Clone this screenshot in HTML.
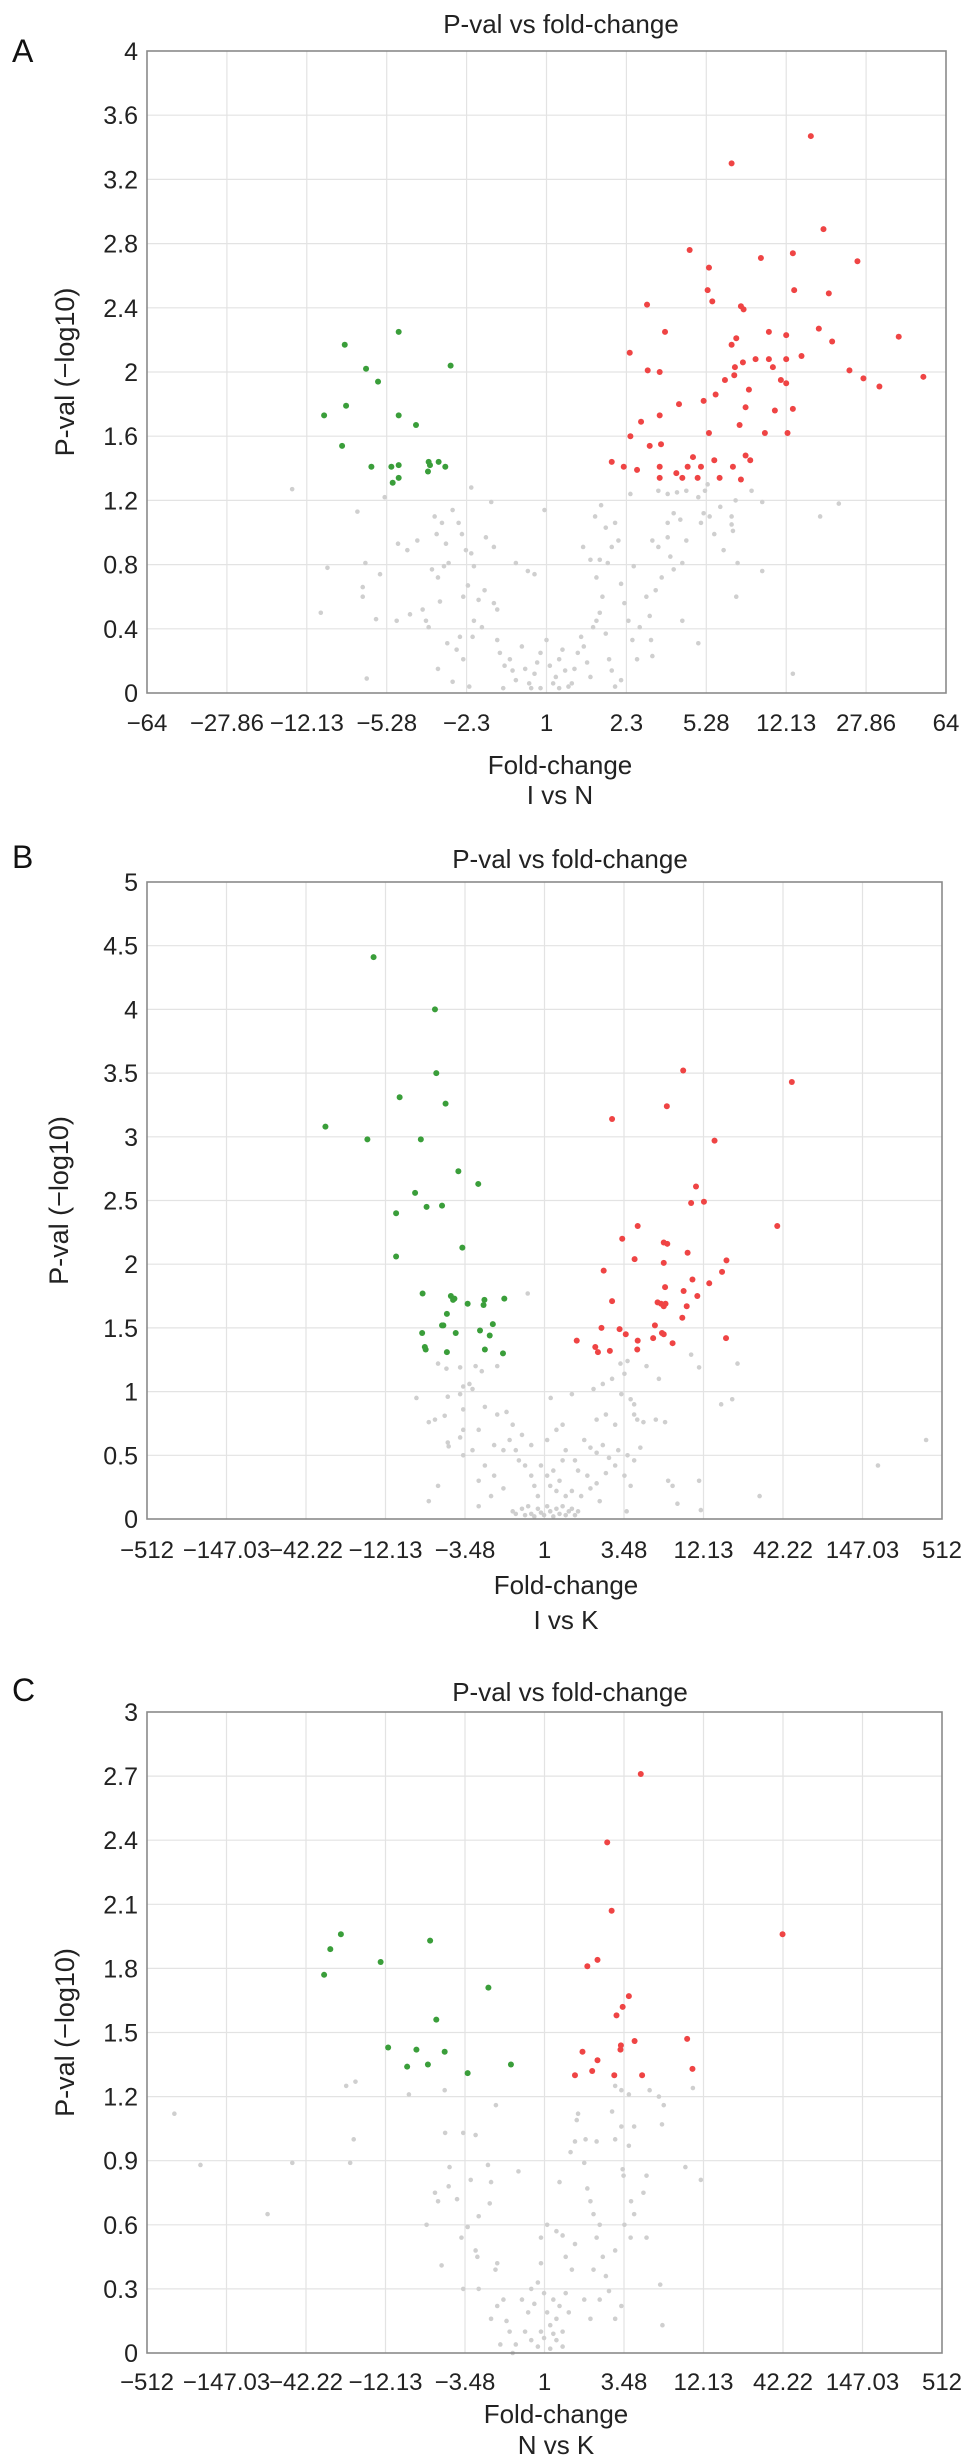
<!DOCTYPE html>
<html><head><meta charset="utf-8">
<style>
html,body{margin:0;padding:0;background:#fff;}
svg{display:block;font-family:"Liberation Sans",Arial,sans-serif;}
</style></head>
<body>
<svg id="fig" width="969" height="2462" viewBox="0 0 969 2462" xmlns="http://www.w3.org/2000/svg"></svg>
<script>
// ---------- Panel A data (x = signed log2 fold-change, y = -log10 p) ----------
const aXTicks = ["\u221264","\u221227.86","\u221212.13","\u22125.28","\u22122.3","1","2.3","5.28","12.13","27.86","64"];
const aYTicks = [0,0.4,0.8,1.2,1.6,2,2.4,2.8,3.2,3.6,4];
const aDownX = [-3.03,-2.22,-2.71,-2.53,-1.44,-3.34,-3.01,-2.22,-1.96,-3.07,-2.63,-2.33,-2.22,-2.31,-2.22,-1.77,-1.75,-1.78,-1.62,-1.52];
const aDownY = [2.17,2.25,2.02,1.94,2.04,1.73,1.79,1.73,1.67,1.54,1.41,1.41,1.42,1.31,1.34,1.44,1.42,1.38,1.44,1.41];
const aUpX = [3.97,2.78,4.16,2.15,3.22,3.70,4.67,2.44,2.42,3.72,4.24,2.49,1.51,2.92,2.96,1.78,3.34,3.60,4.09,4.29,5.29,1.25,2.78,2.85,3.83,3.14,3.34,3.60,2.95,2.83,3.40,1.52,1.70,2.82,4.55,4.76,5.66,5.00,2.68,3.52,3.60,3.04,2.54,2.36,1.99,2.99,1.70,3.43,3.70,1.42,2.90,2.44,3.28,3.62,1.26,1.55,1.72,0.98,1.16,1.36,1.70,1.70,1.95,2.04,2.12,2.20,2.27,2.32,2.52,2.60,2.80,2.92,2.99,3.06];
const aUpY = [3.47,3.30,2.89,2.76,2.71,2.74,2.69,2.65,2.51,2.51,2.49,2.44,2.42,2.41,2.39,2.25,2.25,2.23,2.27,2.19,2.22,2.12,2.17,2.21,2.10,2.08,2.08,2.08,2.06,2.03,2.03,2.01,2.00,1.98,2.01,1.96,1.97,1.91,1.95,1.95,1.93,1.89,1.86,1.82,1.80,1.78,1.73,1.76,1.77,1.69,1.67,1.62,1.62,1.62,1.60,1.54,1.55,1.44,1.41,1.39,1.41,1.34,1.37,1.34,1.41,1.47,1.34,1.41,1.45,1.34,1.41,1.33,1.48,1.45];
const aNsX = [-3.82,-2.84,-2.43,-1.13,-0.83,-0.03,0.82,1.26,1.68,1.82,1.96,2.10,2.28,2.38,2.42,2.61,2.78,2.84,3.08,3.24,4.39,4.11,-3.29,-3.39,-2.76,-2.76,-2.72,-2.70,-2.56,-2.50,-2.23,-2.09,-1.94,-2.25,-2.05,-1.86,-1.81,-1.77,-1.68,-1.57,-1.65,-1.51,-1.47,-1.63,-1.54,-1.72,-1.60,-1.41,-1.32,-1.27,-1.21,-1.13,-1.09,-1.25,-1.18,-1.02,-0.93,-0.79,-0.74,-1.09,-0.97,-1.30,-1.49,-1.35,-1.25,-1.63,-1.41,-1.16,-1.11,-0.91,-0.79,-0.46,-0.28,-0.18,-0.74,-0.70,-0.63,-0.55,-0.51,-0.46,-0.37,-0.32,-0.26,-0.18,-0.14,-0.09,0.00,0.05,0.10,0.14,0.19,0.24,0.28,0.33,0.38,0.42,0.47,0.52,-0.23,-0.09,-0.65,0.19,0.56,0.61,0.66,0.70,0.75,0.80,0.84,0.89,0.94,0.98,1.03,1.12,0.55,0.66,0.75,0.80,0.92,0.98,0.73,0.89,1.03,1.08,1.12,1.17,1.23,1.29,1.36,1.40,1.31,1.50,1.55,1.57,1.64,1.73,1.59,1.68,1.82,1.86,1.91,2.04,1.82,1.91,2.01,2.10,2.04,2.28,1.59,2.52,2.66,2.78,2.80,2.85,2.87,3.24,3.70,2.36,2.45,2.32];
const aNsY = [1.27,1.13,1.22,1.28,1.19,1.14,1.17,1.24,1.26,1.24,1.25,1.26,1.22,1.26,1.30,1.16,1.10,1.20,1.26,1.19,1.18,1.10,0.78,0.50,0.66,0.60,0.81,0.09,0.46,0.74,0.93,0.89,0.95,0.45,0.49,0.52,0.45,0.41,1.10,1.06,0.99,0.93,0.81,0.72,0.79,0.77,0.57,1.14,1.06,0.99,0.89,0.87,0.79,0.60,0.67,0.58,0.64,0.56,0.52,0.45,0.41,0.35,0.31,0.27,0.21,0.15,0.07,0.04,0.35,0.97,0.91,0.81,0.76,0.74,0.33,0.25,0.17,0.21,0.14,0.08,0.29,0.15,0.06,0.12,0.19,0.25,0.33,0.17,0.06,0.10,0.21,0.27,0.14,0.04,0.06,0.15,0.25,0.35,0.03,0.03,0.03,0.03,0.29,0.19,0.10,0.41,0.45,0.50,0.60,0.37,0.21,0.14,0.04,0.08,0.91,0.83,0.72,0.83,0.81,0.91,1.10,1.03,1.06,0.95,0.68,0.56,0.45,0.33,0.21,0.41,0.79,0.60,0.48,0.33,0.64,0.72,0.95,0.91,0.97,0.85,0.77,0.81,1.06,1.12,1.08,0.95,0.45,0.31,0.23,0.99,0.89,1.05,1.01,0.60,0.81,0.76,0.12,1.12,1.10,1.06];

// ---------- Panel B data ----------
const bXTicks = ["\u2212512","\u2212147.03","\u221242.22","\u221212.13","\u22123.48","1","3.48","12.13","42.22","147.03","512"];
const bYTicks = [0,0.5,1,1.5,2,2.5,3,3.5,4,4.5,5];
const bDownX = [-3.87,-2.48,-2.45,-3.28,-2.24,-4.96,-4.01,-2.80,-1.95,-1.50,-2.93,-3.36,-2.67,-2.32,-1.86,-3.36,-2.76,-2.12,-2.07,-2.04,-1.74,-1.36,-1.38,-0.91,-2.21,-2.29,-2.32,-2.77,-2.01,-1.46,-1.24,-1.17,-2.71,-2.69,-2.21,-1.35,-0.94];
const bDownY = [4.41,4.00,3.50,3.31,3.26,3.08,2.98,2.98,2.73,2.63,2.56,2.40,2.45,2.46,2.13,2.06,1.77,1.75,1.72,1.73,1.69,1.72,1.68,1.73,1.61,1.52,1.52,1.46,1.46,1.48,1.44,1.53,1.35,1.33,1.31,1.33,1.30];
const bUpX = [3.14,5.60,2.77,1.53,3.85,3.43,3.61,3.32,5.27,2.11,1.76,2.70,2.78,3.24,2.04,2.70,4.12,1.34,4.02,3.35,3.73,2.73,3.15,3.46,2.56,2.64,2.70,2.74,1.53,3.22,3.12,1.29,1.70,1.84,2.50,2.66,2.70,2.46,2.11,2.90,4.11,0.73,1.15,1.21,1.48,2.10];
const bUpY = [3.52,3.43,3.24,3.14,2.97,2.61,2.49,2.48,2.30,2.30,2.20,2.17,2.16,2.09,2.04,2.01,2.03,1.95,1.94,1.88,1.85,1.82,1.79,1.75,1.70,1.69,1.67,1.69,1.71,1.67,1.58,1.50,1.49,1.45,1.52,1.46,1.45,1.42,1.40,1.38,1.42,1.40,1.35,1.31,1.32,1.33];
const bNsX = [-0.38,-2.90,-2.41,-2.22,-1.91,-1.56,-1.42,-1.07,-1.84,-1.70,-1.63,-2.19,-1.91,-2.62,-2.48,-2.26,-1.84,-1.35,-2.19,-2.17,-1.91,-1.84,-1.63,-2.41,-2.62,-1.49,-1.35,-1.14,-0.93,-1.49,-1.21,-1.07,-0.86,-0.72,-0.79,-0.65,-0.58,-0.44,-0.30,-0.23,-0.15,-0.72,-0.65,-0.51,-0.44,-0.37,-0.30,-0.23,-0.15,-0.08,-0.01,0.06,0.13,0.20,0.27,0.34,0.41,0.48,0.55,0.62,0.69,0.76,-0.08,0.06,0.13,0.20,0.27,0.34,0.48,0.41,0.14,0.62,1.11,1.32,1.53,1.72,1.81,1.88,1.74,1.95,2.03,2.31,2.59,1.18,1.39,1.60,2.03,2.10,2.24,2.52,2.73,0.90,1.04,1.18,1.32,1.46,1.67,1.88,2.03,2.17,0.76,0.97,1.18,1.39,1.60,1.81,1.95,0.62,0.83,1.04,1.25,1.86,2.80,2.90,3.01,3.50,3.54,3.32,3.50,4.37,4.00,4.25,4.87,7.55,8.64,0.06,0.27,0.41,0.48,0.69,-1.84,-1.49,-1.14,-0.93,-0.51,-0.30];
const bNsY = [1.77,0.95,1.22,1.18,1.19,1.20,1.16,1.20,1.04,1.06,1.02,0.96,0.98,0.76,0.78,0.81,0.86,0.88,0.60,0.57,0.64,0.50,0.54,0.26,0.14,0.30,0.42,0.34,0.24,0.10,0.18,0.82,0.84,0.74,0.62,0.54,0.46,0.42,0.34,0.26,0.18,0.06,0.04,0.08,0.03,0.10,0.04,0.02,0.08,0.05,0.03,0.10,0.06,0.02,0.08,0.04,0.10,0.03,0.06,0.08,0.03,0.06,0.42,0.34,0.26,0.38,0.22,0.30,0.18,0.46,0.95,0.98,1.02,1.06,1.10,1.22,1.14,1.24,0.98,0.94,0.90,1.20,1.10,0.78,0.82,0.74,0.82,0.78,0.76,0.78,0.76,0.62,0.56,0.52,0.58,0.48,0.54,0.50,0.46,0.56,0.38,0.34,0.28,0.36,0.42,0.34,0.26,0.22,0.18,0.24,0.14,0.06,0.30,0.26,0.12,0.30,0.07,1.29,1.19,1.22,0.90,0.94,0.18,0.42,0.62,0.62,0.70,0.74,0.54,0.46,0.70,0.70,0.58,0.54,0.66,0.58];

// ---------- Panel C data ----------
const cXTicks = ["\u2212512","\u2212147.03","\u221242.22","\u221212.13","\u22123.48","1","3.48","12.13","42.22","147.03","512"];
const cYTicks = [0,0.3,0.6,0.9,1.2,1.5,1.8,2.1,2.4,2.7,3];
const cDownX = [-4.61,-4.85,-4.99,-3.71,-2.59,-1.27,-2.45,-3.54,-2.90,-2.26,-3.11,-2.64,-1.74,-0.76];
const cDownY = [1.96,1.89,1.77,1.83,1.93,1.71,1.56,1.43,1.42,1.41,1.34,1.35,1.31,1.35];
const cUpX = [2.18,1.42,1.52,5.39,1.20,0.97,1.91,1.77,1.63,3.23,2.04,1.73,1.72,0.86,1.20,1.08,0.69,1.58,2.21,3.35];
const cUpY = [2.71,2.39,2.07,1.96,1.84,1.81,1.67,1.62,1.58,1.47,1.46,1.44,1.42,1.41,1.37,1.32,1.30,1.30,1.30,1.33];
const cNsX = [-8.38,-7.79,-6.27,-5.71,-4.49,-4.28,-4.32,-4.40,-3.07,-2.67,-2.33,-2.26,-2.25,-2.15,-2.17,-2.48,-2.41,-1.98,-1.88,-1.84,-1.56,-1.67,-1.74,-1.49,-1.56,-1.52,-1.84,-1.49,-1.24,-1.10,-1.28,-1.21,-0.59,-1.07,-1.11,-1.21,-1.07,-0.93,-0.79,-0.65,-1.00,-0.72,-0.86,-0.51,-0.37,-0.44,-0.30,-0.23,-0.15,-0.08,-0.01,0.06,0.13,0.20,0.27,0.34,0.41,0.48,0.55,-0.30,-0.15,-0.01,0.13,0.27,0.41,-0.08,0.20,-0.08,0.06,0.27,0.41,0.48,0.62,0.69,0.34,0.59,0.69,0.76,0.90,0.97,1.04,1.11,1.18,1.25,1.32,1.39,1.46,0.90,1.04,0.73,0.93,1.18,1.53,1.60,1.74,1.77,1.60,1.74,1.91,2.38,2.59,2.66,2.70,1.79,1.91,2.03,1.96,2.03,2.24,2.31,1.74,1.60,2.31,2.62,2.67,3.19,3.54,3.36,1.11,1.25,1.60,1.81,1.95];
const cNsY = [1.12,0.88,0.65,0.89,1.25,1.27,1.00,0.89,1.21,0.60,0.41,1.23,1.03,0.87,0.78,0.75,0.71,0.72,0.54,1.03,1.02,0.81,0.59,0.64,0.48,0.45,0.30,0.30,0.70,1.16,0.88,0.80,0.85,0.42,0.39,0.16,0.22,0.25,0.10,0.04,0.04,0.00,0.15,0.25,0.19,0.10,0.30,0.23,0.33,0.42,0.28,0.19,0.13,0.25,0.16,0.22,0.10,0.28,0.19,0.06,0.03,0.07,0.02,0.06,0.03,0.10,0.09,0.54,0.60,0.57,0.55,0.45,0.39,0.51,0.80,0.94,0.99,1.12,0.89,0.77,0.71,0.65,0.54,0.60,0.45,0.36,0.29,0.25,0.16,1.09,1.00,0.99,1.13,1.00,1.06,0.86,1.25,1.23,1.21,1.23,1.20,1.07,1.16,0.83,0.97,1.06,0.71,0.65,0.75,0.83,0.22,0.16,0.54,0.32,0.13,0.87,0.81,1.24,0.39,0.25,0.48,0.60,0.54];

const NS = "http://www.w3.org/2000/svg";
const svg = document.getElementById('fig');
function mk(tag, attrs, parent){
  const e = document.createElementNS(NS, tag);
  for (const k in attrs) e.setAttribute(k, attrs[k]);
  (parent||svg).appendChild(e);
  return e;
}
function txt(str, attrs, parent){ const t = mk('text', attrs, parent); t.textContent = str; return t; }

function panel(cfg){
  const g = mk('g', {});
  
  
  const L=cfg.left, R=cfg.right, T=cfg.top, B=cfg.bottom;
  const xMax = cfg.xMax, yMax = cfg.yTicks[cfg.yTicks.length-1];
  const sx = v => L + (v + xMax) / (2*xMax) * (R - L);
  const sy = v => B - v / yMax * (B - T);
  const pl = txt(cfg.letter, {x:12, y:cfg.letterY, 'font-size':32, fill:'#111'}, g);
  
  
  const tt = txt('P-val vs fold-change', {x:cfg.titleX, y:cfg.titleY, 'font-size':26, 'text-anchor':'middle', fill:'#222'}, g);
  
  
  mk('rect', {x:L, y:T, width:R-L, height:B-T, fill:'#fff'}, g);
  const n = cfg.xTicks.length - 1;
  cfg.xTicks.forEach((lab, i) => {
    const xv = -xMax + i * 2 * xMax / n;
    const x = sx(xv);
    if (i>0 && i<n) {
      const gl = mk('line', {x1:x, x2:x, y1:T, y2:B, stroke:'#e3e3e3', 'stroke-width':1.2}, g);
      
      
    }
    const tl = txt(lab, {x:x, y:cfg.xTickY, 'font-size':24, 'text-anchor':'middle', fill:'#222'}, g);
    
    
  });
  cfg.yTicks.forEach((v, i) => {
    const y = sy(v);
    if (i>0 && i<cfg.yTicks.length-1) {
      const gl = mk('line', {x1:L, x2:R, y1:y, y2:y, stroke:'#e3e3e3', 'stroke-width':1.2}, g);
      
      
    }
    const tl = txt(String(v), {x:L-9, y:y+9, 'font-size':25, 'text-anchor':'end', fill:'#222'}, g);
    
    
  });
  function dots(xs, ys, color, r, name){
    const dg = mk('g', {}, g);
    
    
    xs.forEach((xv, i) => {
      const c = mk('circle', {cx:sx(xv), cy:sy(ys[i]), r:r, fill:color}, dg);
      
      
    });
  }
  dots(cfg.nsX, cfg.nsY, '#cfcfcf', 2.3, 'not-significant');
  dots(cfg.downX, cfg.downY, '#3a9e3a', 3, 'downregulated');
  dots(cfg.upX, cfg.upY, '#ef4444', 3, 'upregulated');
  const fr = mk('rect', {x:L, y:T, width:R-L, height:B-T, fill:'none', stroke:'#8a8a8a', 'stroke-width':1.6}, g);
  
  
  const xt = txt('Fold-change', {x:cfg.xTitleX, y:cfg.xTitleY, 'font-size':26, 'text-anchor':'middle', fill:'#222'}, g);
  
  
  const ct = txt(cfg.comp, {x:cfg.xTitleX, y:cfg.compY, 'font-size':26, 'text-anchor':'middle', fill:'#222'}, g);
  
  
  const cy = (T + B) / 2;
  const yt = txt('P-val (\u2212log10)', {x:cfg.yTitleX, y:cy, 'font-size':27, 'text-anchor':'middle', fill:'#222', transform:'rotate(-90 '+cfg.yTitleX+' '+cy+')'}, g);
  
  
}

panel({letter:'A', letterY:62, titleX:561, titleY:33, left:147, right:946, top:51, bottom:693, xMax:6,
  xTicks:aXTicks, yTicks:aYTicks, xTickY:731, xTitleX:560, xTitleY:774, comp:'I vs N', compY:804, yTitleX:74,
  downX:aDownX, downY:aDownY, upX:aUpX, upY:aUpY, nsX:aNsX, nsY:aNsY});
panel({letter:'B', letterY:868, titleX:570, titleY:868, left:147, right:942, top:882, bottom:1519, xMax:9,
  xTicks:bXTicks, yTicks:bYTicks, xTickY:1558, xTitleX:566, xTitleY:1594, comp:'I vs K', compY:1629, yTitleX:68,
  downX:bDownX, downY:bDownY, upX:bUpX, upY:bUpY, nsX:bNsX, nsY:bNsY});
panel({letter:'C', letterY:1701, titleX:570, titleY:1701, left:147, right:942, top:1712, bottom:2353, xMax:9,
  xTicks:cXTicks, yTicks:cYTicks, xTickY:2390, xTitleX:556, xTitleY:2423, comp:'N vs K', compY:2454, yTitleX:74,
  downX:cDownX, downY:cDownY, upX:cUpX, upY:cUpY, nsX:cNsX, nsY:cNsY});
</script>
</body></html>
